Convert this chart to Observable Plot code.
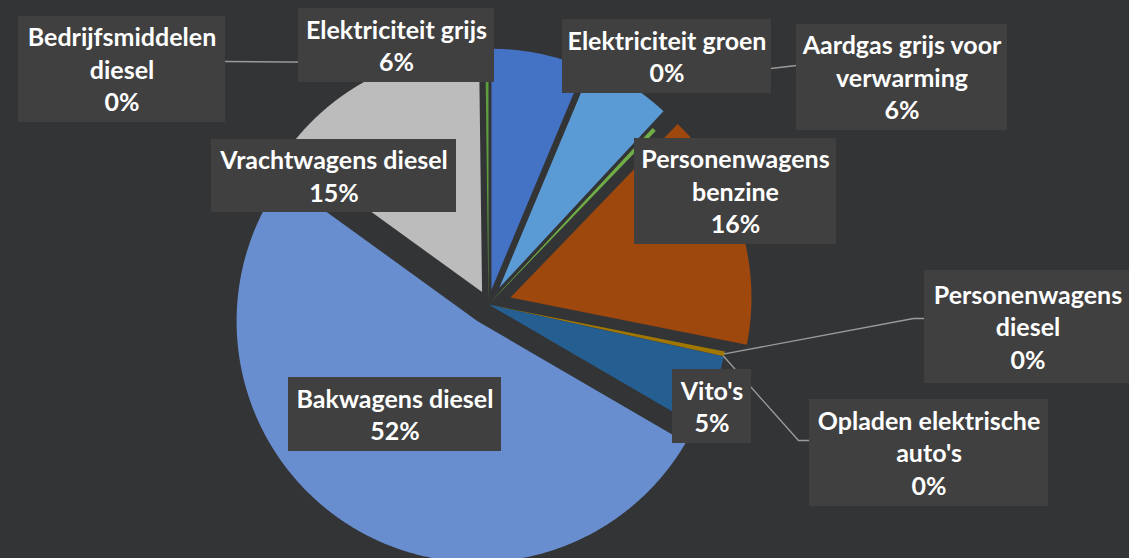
<!DOCTYPE html>
<html><head><meta charset="utf-8">
<script src="https://cdn.jsdelivr.net/npm/d3@7"></script>
<script src="https://cdn.jsdelivr.net/npm/@observablehq/plot@0.6"></script>
<style>
html,body{margin:0;padding:0;background:#333436;}
#chart{width:1129px;height:558px;overflow:hidden;}
</style></head><body><div id="chart"></div>
<script>
// ---- data ----
const categories = ["Elektriciteit grijs","Aardgas grijs voor verwarming","Elektriciteit groen","Personenwagens benzine","Personenwagens diesel","Opladen elektrische auto's","Vito's","Bakwagens diesel","Vrachtwagens diesel","Bedrijfsmiddelen diesel"];
const values = [6.3, 5.6, 0.28, 15.9, 0.32, 0.03, 4.9, 51.5, 14.8, 0.2];
const colors = ["#4472C4","#5B9BD5","#70AD47","#9E480E","#A07700","#636363","#255E91","#698ED0","#BCBCBC","#5F9E3C"];
const labelText = {
  "Bedrijfsmiddelen diesel": "Bedrijfsmiddelen\ndiesel",
  "Aardgas grijs voor verwarming": "Aardgas grijs voor\nverwarming",
  "Personenwagens benzine": "Personenwagens\nbenzine",
  "Personenwagens diesel": "Personenwagens\ndiesel",
  "Opladen elektrische auto's": "Opladen elektrische\nauto's"
};

// ---- layout (pixels) ----
const W = 1129, H = 558, CX = 488, CY = 304, R = 241;
const explode = {"Elektriciteit grijs":15, "Aardgas grijs voor verwarming":20, "Personenwagens benzine":23, "Bakwagens diesel":20, "Vrachtwagens diesel":14};
const boxes = {
  "Bedrijfsmiddelen diesel": [18,16,225,122],
  "Elektriciteit grijs": [298,8,494,82],
  "Elektriciteit groen": [562,19,771,93],
  "Aardgas grijs voor verwarming": [796,24,1007,130],
  "Personenwagens benzine": [634,138,836,244],
  "Vrachtwagens diesel": [211,139,456,212],
  "Bakwagens diesel": [288,377,501,451],
  "Vito's": [672,369,751,443],
  "Personenwagens diesel": [924,270,1131,383],
  "Opladen elektrische auto's": [809,399,1048,506]
};
const leaders = {
  "Bedrijfsmiddelen diesel": [[225,61]],
  "Aardgas grijs voor verwarming": [[796,65]],
  "Personenwagens diesel": [[924,318],[913,318]],
  "Opladen elektrische auto's": [[809,440],[798,440]]
};
const px = v => (v - CX) / R, py = v => (CY - v) / R;

// ---- build geometry from data ----
const total = d3.sum(values);
const rows = categories.map((name, i) => ({name, value: values[i]}));
const arcs = d3.pie().sort(null).value(d => d.value)(rows);
const slicePts = [];
const info = {};
arcs.forEach(a => {
  const name = a.data.name;
  const mid = (a.startAngle + a.endAngle) / 2;
  const e = (explode[name] || 0) / R;
  const ox = e * Math.sin(mid), oy = e * Math.cos(mid);
  info[name] = {tipX: ox + Math.sin(mid), tipY: oy + Math.cos(mid)};
  slicePts.push({name, x: ox, y: oy});
  const n = Math.max(2, Math.ceil((a.endAngle - a.startAngle) / (Math.PI / 720)));
  for (let k = 0; k <= n; k++) {
    const t = a.startAngle + (a.endAngle - a.startAngle) * k / n;
    slicePts.push({name, x: ox + Math.sin(t), y: oy + Math.cos(t)});
  }
  slicePts.push({name, x: ox, y: oy});
});

const labels = categories.map((name, i) => {
  const b = boxes[name];
  return {
    name,
    text: (labelText[name] || name) + "\n" + Math.round(values[i] / total * 100) + "%",
    x1: px(b[0]), x2: px(b[2]), y1: py(b[1]), y2: py(b[3]),
    cx: px((b[0] + b[2]) / 2), cy: py((b[1] + b[3]) / 2 - 1)
  };
});

const leaderPts = [];
Object.entries(leaders).forEach(([name, pts]) => {
  pts.forEach(p => leaderPts.push({name, x: px(p[0]), y: py(p[1])}));
  leaderPts.push({name, x: info[name].tipX, y: info[name].tipY});
});

const chart = Plot.plot({
  width: W, height: H,
  margin: 0,
  style: {background: "#333436"},
  x: {domain: [px(0), px(W)], range: [0, W], axis: null},
  y: {domain: [py(H), py(0)], range: [H, 0], axis: null},
  color: {domain: categories, range: colors},
  marks: [
    Plot.line(slicePts, {x: "x", y: "y", z: "name", fill: "name", stroke: "none", curve: "linear"}),
    Plot.line(leaderPts, {x: "x", y: "y", z: "name", stroke: "#9a9a9a", strokeWidth: 1.4, curve: "linear"}),
    Plot.rect(labels, {x1: "x1", x2: "x2", y1: "y1", y2: "y2", fill: "#404040", ariaLabel: "labelbox"}),
    Plot.text(labels, {x: "cx", y: "cy", text: "text", fill: "white", fontSize: 25, fontWeight: "bold",
      fontFamily: "Lato", lineHeight: 1.3, textAnchor: "middle", lineAnchor: "middle", ariaLabel: "labeltext"})
  ]
});

// texture + shadow for label boxes
const ns = "http://www.w3.org/2000/svg";
const defs = document.createElementNS(ns, "defs");
defs.innerHTML = `
<pattern id="dots" width="6" height="6" patternUnits="userSpaceOnUse">
  <rect width="6" height="6" fill="#3b3b3b"/>
  <rect x="1" y="1" width="1.5" height="1.5" fill="#4e4e4e"/>
  <rect x="4" y="4" width="1.5" height="1.5" fill="#4e4e4e"/>
</pattern>
<filter id="shadow" x="-10%" y="-10%" width="130%" height="140%">
  <feDropShadow dx="3" dy="3" stdDeviation="2.5" flood-color="#000" flood-opacity="0.45"/>
</filter>
<filter id="tshadow" x="-5%" y="-5%" width="115%" height="120%">
  <feDropShadow dx="1" dy="1" stdDeviation="1" flood-color="#000" flood-opacity="0.5"/>
</filter>`;
chart.insertBefore(defs, chart.firstChild);
chart.querySelectorAll('g[aria-label="labelbox"] rect').forEach(r => {
  r.setAttribute("fill", "url(#dots)");
  r.setAttribute("filter", "url(#shadow)");
});
const tg = chart.querySelector('g[aria-label="labeltext"]');
if (tg) tg.setAttribute("filter", "url(#tshadow)");
document.getElementById("chart").appendChild(chart);
</script></body></html>
